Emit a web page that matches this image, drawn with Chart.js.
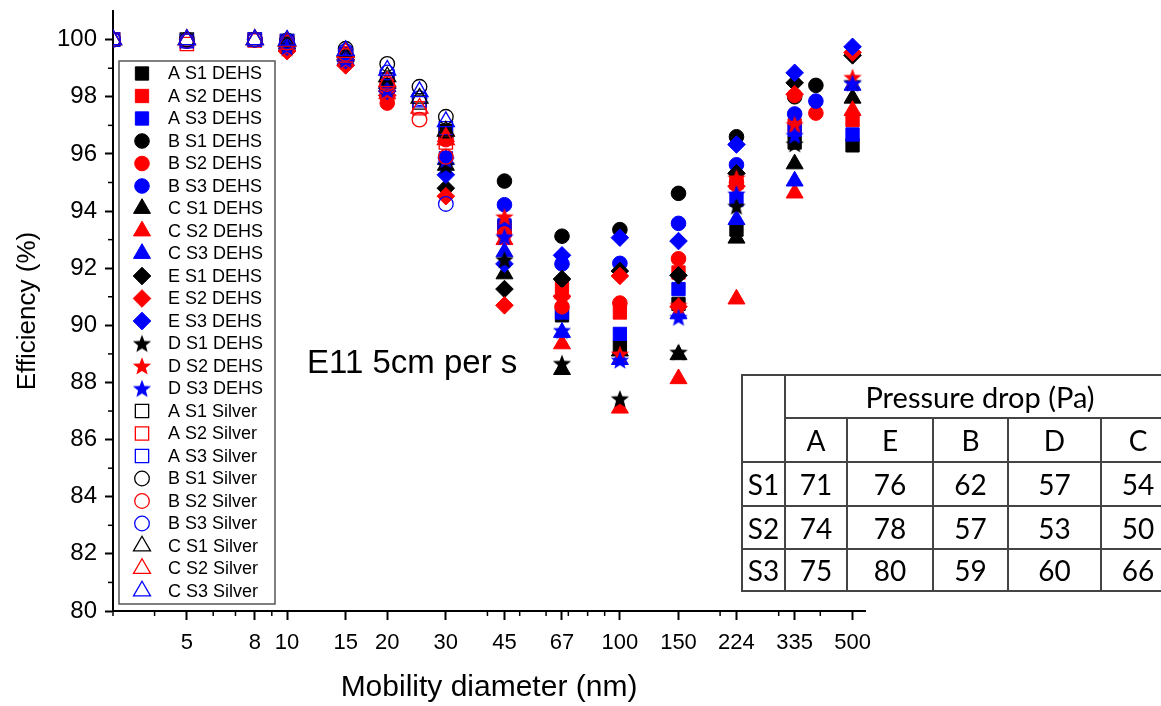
<!DOCTYPE html>
<html>
<head>
<meta charset="utf-8">
<script src="https://cdn.jsdelivr.net/npm/chart.js@4.4.1/dist/chart.umd.min.js"></script>
<style>
  html, body { margin: 0; padding: 0; background: #fff; overflow: hidden; }
  #wrap { position: relative; width: 1161px; height: 706px; }
  #pd { position: absolute; left: 741px; top: 374px; width: 433px; border-collapse: collapse; table-layout: fixed;
        font-family: Lato, "Open Sans", sans-serif; color: #000; }
  #pd td { border: 2px solid #444; text-align: center; padding: 0; line-height: 1; font-size: 28px; }
  #pd td.hd { font-size: 29px; }
</style>
</head>
<body>
<div id="wrap">
  <canvas id="myChart" width="1161" height="706"></canvas>
  <table id="pd"></table>
</div>
<script>
// x positions (nm)
const dehsX = [10, 15, 20, 30, 45, 67, 100, 150, 224, 335, 388, 500];
const silverX = [3, 5, 8, 10, 15, 20, 25, 30];

// DEHS efficiencies (%)
const aS1Dehs = [99.8, 99.35, 98.3, 96.8, 93.45, 90.35, 89.25, 90.75, 93.35, 96.4, null, 96.3];
const aS2Dehs = [99.75, 99.3, 98.1, 96.55, 93.35, 91.35, 90.45, 91.85, 95.0, 97.0, null, 97.18];
const aS3Dehs = [99.8, 99.35, 98.2, 95.85, 93.5, 90.45, 89.7, 91.27, 94.4, 96.85, null, 96.68];
const bS1Dehs = [99.85, 99.4, 98.4, 96.6, 95.05, 93.12, 93.35, 94.62, 96.6, 98.0, 98.4, null];
const bS2Dehs = [99.75, 99.2, 97.78, 96.5, 93.2, 90.65, 90.78, 92.33, 95.0, 98.05, 97.43, null];
const bS3Dehs = [99.8, 99.35, 98.2, 95.85, 94.22, 92.15, 92.17, 93.57, 95.62, 97.4, 97.85, null];
const cS1Dehs = [99.85, 99.4, 98.35, 95.6, 91.8, 88.45, 89.1, 88.97, 93.05, 95.65, null, 97.95];
const cS2Dehs = [99.75, 99.25, 98.1, 96.6, 93.0, 89.35, 87.1, 88.13, 90.92, 94.63, null, 97.52];
const cS3Dehs = [99.8, 99.3, 98.2, 95.8, 92.57, 89.75, 88.8, 90.4, 93.7, 95.05, null, 98.4];
const eS1Dehs = [99.8, 99.3, 98.3, 94.8, 91.27, 91.62, 91.9, 91.75, 95.32, 98.49, null, 99.45];
const eS2Dehs = [99.6, 99.1, 98.05, 94.52, 90.7, 91.02, 91.73, 90.65, 94.87, 98.09, null, 99.55];
const eS3Dehs = [99.75, 99.28, 98.2, 95.27, 92.15, 92.45, 93.07, 92.95, 96.33, 98.84, null, 99.75];
const dS1Dehs = [99.8, 99.35, 98.3, 95.6, 92.3, 88.67, 87.43, 89.06, 94.17, 96.35, null, 98.5];
const dS2Dehs = [99.7, 99.25, 98.15, 96.6, 93.8, 90.9, 89.0, 90.7, 95.16, 97.03, null, 98.68];
const dS3Dehs = [99.75, 99.3, 98.25, 95.8, 93.1, 89.82, 88.78, 90.28, 94.6, 96.65, null, 98.47];

// Silver efficiencies (%)
const aS1Silver = [100, 100, 100, 99.95, 99.5, 98.6, 97.8, 96.8];
const aS2Silver = [100, 99.85, 99.97, 99.9, 99.45, 98.5, 97.6, 96.4];
const aS3Silver = [100, 99.95, 100, 99.95, 99.5, 98.6, 97.88, 96.9];
const bS1Silver = [100, 100, 100, 99.97, 99.68, 99.15, 98.35, 97.3];
const bS2Silver = [100, 99.95, 100, 99.9, 99.5, 98.45, 97.2, 95.9];
const bS3Silver = [100, 99.95, 100, 99.95, 99.6, 98.85, 97.95, 94.25];
const cS1Silver = [100, 100, 100, 99.95, 99.6, 98.7, 97.95, 96.8];
const cS2Silver = [100, 100, 100, 99.95, 99.55, 98.53, 97.6, 96.5];
const cS3Silver = [100, 100, 100, 99.98, 99.62, 98.93, 98.18, 97.13];

// ticks
const xTicks = [5, 8, 10, 15, 20, 30, 45, 67, 100, 150, 224, 335, 500];
const xMinor = [3, 4, 6, 7, 9, 40, 50, 60, 70, 80, 90, 200, 300, 400];
const yTicks = [80, 82, 84, 86, 88, 90, 92, 94, 96, 98, 100];
const yMinor = [81, 83, 85, 87, 89, 91, 93, 95, 97, 99];

// pressure drop table
const tableCols = ['A', 'E', 'B', 'D', 'C'];
const tableRows = ['S1', 'S2', 'S3'];
const dropS1 = [71, 76, 62, 57, 54];
const dropS2 = [74, 78, 57, 53, 50];
const dropS3 = [75, 80, 59, 60, 66];

const note = 'E11 5cm per s';
const fam = '"Liberation Sans", Arial, sans-serif';

// filled 5 point star as a point image
function makeStar(color) {
  const c = document.createElement('canvas');
  c.width = 20; c.height = 20;
  const g = c.getContext('2d');
  g.beginPath();
  for (let i = 0; i < 10; i++) {
    const r = i % 2 ? 4.1 : 9.6;
    const a = -Math.PI / 2 + i * Math.PI / 5;
    const px = 10 + r * Math.cos(a), py = 10.8 + r * Math.sin(a);
    if (i == 0) g.moveTo(px, py); else g.lineTo(px, py);
  }
  g.closePath();
  g.fillStyle = color;
  g.fill();
  return c;
}

const colors = ['#000000', '#ff0000', '#0000ff'];
const stars = colors.map(makeStar);

const series = [
  ['A S1 DEHS', dehsX, aS1Dehs, 'rect', 0, true],
  ['A S2 DEHS', dehsX, aS2Dehs, 'rect', 1, true],
  ['A S3 DEHS', dehsX, aS3Dehs, 'rect', 2, true],
  ['B S1 DEHS', dehsX, bS1Dehs, 'circle', 0, true],
  ['B S2 DEHS', dehsX, bS2Dehs, 'circle', 1, true],
  ['B S3 DEHS', dehsX, bS3Dehs, 'circle', 2, true],
  ['C S1 DEHS', dehsX, cS1Dehs, 'triangle', 0, true],
  ['C S2 DEHS', dehsX, cS2Dehs, 'triangle', 1, true],
  ['C S3 DEHS', dehsX, cS3Dehs, 'triangle', 2, true],
  ['E S1 DEHS', dehsX, eS1Dehs, 'rectRot', 0, true],
  ['E S2 DEHS', dehsX, eS2Dehs, 'rectRot', 1, true],
  ['E S3 DEHS', dehsX, eS3Dehs, 'rectRot', 2, true],
  ['D S1 DEHS', dehsX, dS1Dehs, 'star', 0, true],
  ['D S2 DEHS', dehsX, dS2Dehs, 'star', 1, true],
  ['D S3 DEHS', dehsX, dS3Dehs, 'star', 2, true],
  ['A S1 Silver', silverX, aS1Silver, 'rect', 0, false],
  ['A S2 Silver', silverX, aS2Silver, 'rect', 1, false],
  ['A S3 Silver', silverX, aS3Silver, 'rect', 2, false],
  ['B S1 Silver', silverX, bS1Silver, 'circle', 0, false],
  ['B S2 Silver', silverX, bS2Silver, 'circle', 1, false],
  ['B S3 Silver', silverX, bS3Silver, 'circle', 2, false],
  ['C S1 Silver', silverX, cS1Silver, 'triangle', 0, false],
  ['C S2 Silver', silverX, cS2Silver, 'triangle', 1, false],
  ['C S3 Silver', silverX, cS3Silver, 'triangle', 2, false],
];

const radii = { rect: 9.4, circle: 7.3, triangle: 9.8, rectRot: 8.8, star: 9 };

const datasets = series.map((s, i) => {
  const [label, xs, ys, shape, ci, filled] = s;
  const pts = [];
  xs.forEach((xv, k) => { if (ys[k] != null) pts.push({ x: xv, y: ys[k] }); });
  return {
    label: label,
    data: pts,
    showLine: false,
    pointStyle: shape == 'star' ? stars[ci] : shape,
    pointRadius: radii[shape],
    pointBackgroundColor: filled ? colors[ci] : 'rgba(0,0,0,0)',
    pointBorderColor: colors[ci],
    pointBorderWidth: filled ? 1 : 1.3,
    order: series.length - i,
    clip: { left: 0, top: false, right: false, bottom: false }
  };
});

const extras = {
  id: 'extras',
  afterDraw(chart) {
    const ctx = chart.ctx, a = chart.chartArea;
    const xs = chart.scales.x, ys = chart.scales.y;
    ctx.save();
    // minor ticks
    ctx.strokeStyle = '#000';
    ctx.lineWidth = 1.5;
    xMinor.forEach(v => {
      const px = xs.getPixelForValue(v);
      ctx.beginPath(); ctx.moveTo(px, a.bottom); ctx.lineTo(px, a.bottom + 5); ctx.stroke();
    });
    yMinor.forEach(v => {
      const py = ys.getPixelForValue(v);
      ctx.beginPath(); ctx.moveTo(a.left, py); ctx.lineTo(a.left - 5, py); ctx.stroke();
    });
    // note
    ctx.fillStyle = '#000';
    ctx.font = '33px ' + fam;
    ctx.textBaseline = 'alphabetic';
    ctx.textAlign = 'left';
    ctx.fillText(note, 307, 373);
    // legend
    const lx = 119, ly = 61, lw = 156, lh = 543;
    ctx.fillStyle = '#fff';
    ctx.fillRect(lx, ly, lw, lh);
    ctx.strokeStyle = '#555';
    ctx.lineWidth = 1.5;
    ctx.strokeRect(lx, ly, lw, lh);
    ctx.font = '18px ' + fam;
    ctx.textBaseline = 'middle';
    series.forEach((s, i) => {
      const d = datasets[i];
      const y = 73.5 + i * 22.5;
      ctx.fillStyle = d.pointBackgroundColor;
      ctx.strokeStyle = d.pointBorderColor;
      ctx.lineWidth = d.pointBorderWidth;
      Chart.helpers.drawPoint(ctx, { pointStyle: d.pointStyle, radius: d.pointRadius, rotation: 0, borderWidth: d.pointBorderWidth }, 142, y);
      ctx.fillStyle = '#000';
      ctx.fillText(s[0], 168, y + 1);
    });
    ctx.restore();
  }
};

function noPad(s) {
  s.paddingTop = 0; s.paddingBottom = 0; s.paddingLeft = 0; s.paddingRight = 0;
}

const ctx = document.getElementById('myChart');
const myChart = new Chart(ctx, {
  type: 'scatter',
  data: { datasets: datasets },
  options: {
    responsive: false,
    animation: false,
    events: [],
    layout: { padding: { top: 5, right: 296, left: 0, bottom: 0 } },
    plugins: { legend: { display: false }, tooltip: { enabled: false } },
    scales: {
      x: {
        type: 'logarithmic',
        min: 3,
        max: 545,
        afterBuildTicks: s => { s.ticks = xTicks.map(v => ({ value: v })); },
        afterFit: s => { s.height = 95; noPad(s); },
        ticks: {
          autoSkip: false, maxRotation: 0, color: '#000', padding: 10,
          font: { family: fam, size: 22 },
          callback: v => String(v)
        },
        grid: { drawOnChartArea: false, drawTicks: true, tickLength: 9, tickColor: '#000', tickWidth: 2 },
        border: { display: true, color: '#000', width: 2 },
        title: { display: true, text: 'Mobility diameter (nm)', color: '#000',
                 font: { family: fam, size: 30 }, padding: { top: 0, bottom: 0 } }
      },
      y: {
        type: 'linear',
        min: 80,
        max: 101,
        afterBuildTicks: s => { s.ticks = yTicks.map(v => ({ value: v })); },
        afterFit: s => { s.width = 113; noPad(s); },
        ticks: { color: '#000', padding: 8, font: { family: fam, size: 24 } },
        grid: { drawOnChartArea: false, drawTicks: true, tickLength: 8, tickColor: '#000', tickWidth: 2 },
        border: { display: true, color: '#000', width: 2 },
        title: { display: true, text: 'Efficiency (%)', color: '#000',
                 font: { family: fam, size: 26 }, padding: { top: 12, bottom: 0 } }
      }
    }
  },
  plugins: [extras]
});

// pressure drop table
function buildTable() {
  const t = document.getElementById('pd');
  const widths = [43, 62, 86, 75, 93, 74];
  let html = '<colgroup>' + widths.map(w => '<col style="width:' + w + 'px">').join('') + '</colgroup>';
  html += '<tr style="height:43px"><td rowspan="2"></td><td class="hd" colspan="5">Pressure drop (Pa)</td></tr>';
  html += '<tr style="height:44px">' + tableCols.map(c => '<td>' + c + '</td>').join('') + '</tr>';
  const vals = [dropS1, dropS2, dropS3];
  const hts = [44, 43, 42];
  tableRows.forEach((r, i) => {
    html += '<tr style="height:' + hts[i] + 'px"><td>' + r + '</td>' + vals[i].map(v => '<td>' + v + '</td>').join('') + '</tr>';
  });
  t.innerHTML = html;
}
buildTable();
</script>
</body>
</html>
